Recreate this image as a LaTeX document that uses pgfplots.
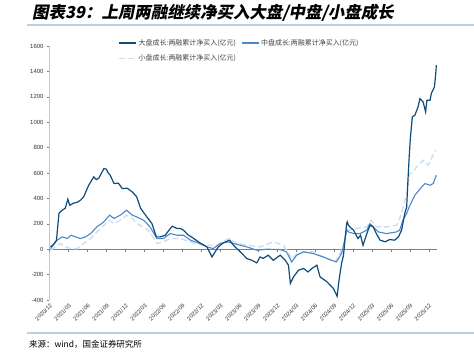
\documentclass[border=0pt]{standalone}
\usepackage{fontspec}
\setmainfont{Liberation Sans}
\newfontfamily\cjk{Noto Sans CJK SC}
\newfontfamily\cjkt{Noto Sans CJK SC}[FakeSlant=0.2]
\usepackage{pgfplots}
\pgfplotsset{compat=1.18}
\definecolor{cA}{HTML}{0E4C7A}
\definecolor{cB}{HTML}{4A88CC}
\definecolor{cC}{HTML}{CCDFF2}
\definecolor{sepc}{HTML}{BCCFE0}
\begin{document}
\begin{tikzpicture}
\useasboundingbox (0bp,0bp) rectangle (474bp,353bp);
\node[anchor=west, font=\cjkt\bfseries\fontsize{16.5}{18}\selectfont, inner sep=0pt] at (32bp,340.5bp) {图表39：上周两融继续净买入大盘/中盘/小盘成长};
\draw[sepc, line width=1.5bp] (27bp,328bp) -- (474bp,328bp);
\draw[sepc, line width=1.5bp] (27bp,20bp) -- (474bp,20bp);
\node[anchor=west, font=\cjk\fontsize{8.5}{10}\selectfont, inner sep=0pt] at (29bp,9bp) {来源：wind，国金证券研究所};
\begin{axis}[
  at={(49.5bp,53bp)}, anchor=south west,
  scale only axis, width=387.5bp, height=254bp,
  xmin=0, xmax=61.3, ymin=-400, ymax=1600,
  axis x line*=bottom, axis y line*=left,
  x axis line style={draw=none},
  y axis line style={draw=gray!45, line width=1.8bp, -},
  xtick={0,3,...,60},
  xticklabels={2020/12,2021/03,2021/06,2021/09,2021/12,2022/03,2022/06,2022/09,2022/12,2023/03,2023/06,2023/09,2023/12,2024/03,2024/06,2024/09,2024/12,2025/03,2025/06,2025/09,2025/12},
  x tick label style={rotate=45, anchor=north east, font=\fontsize{5.8}{6.5}\selectfont, inner sep=0.5bp, text=black!80},
  major x tick style={draw=none},
  ytick={-400,-200,...,1600},
  y tick label style={font=\fontsize{6}{7}\selectfont, text=black!80},
  ytick style={draw=gray, line width=0.5bp},
  major tick length=2.5bp, tick align=outside,
  /pgf/number format/assume math mode=true,
  /pgf/number format/1000 sep={},
  scaled y ticks=false,
  legend columns=2,
  legend cell align=left,
  legend style={at={(0.177,1.035)}, anchor=north west, draw=none, fill=none,
    font=\cjk\fontsize{7}{8}\selectfont, text=black!75, inner sep=0pt,
    /tikz/every even column/.append style={column sep=3bp}, row sep=4bp},
]
\draw[gray, line width=0.7bp] (axis cs:0,0) -- (axis cs:61.3,0);
\pgfplotsinvokeforeach{0,3,...,60}{\draw[gray, line width=0.5bp] (axis cs:#1,0) -- ([yshift=-2.5bp]axis cs:#1,0);}
\addplot[cC, line width=1.4bp, dash pattern=on 6bp off 3bp, forget plot] coordinates {
(0.16,-8)(1.7,45)(2.5,18)(3.3,5)(4.4,5)(5.4,45)(6.5,84)(7.5,136)(8.6,189)(9.4,228)(10.2,202)(11.2,228)(12.2,268)(13.1,242)(13.8,202)(14.9,176)(15.9,136)(17.0,45)(18.0,58)(19.1,84)(20.7,84)(22.3,58)(22.8,45)(24.9,31)(26.5,31)(28.3,84)(29.6,45)(31.2,31)(33.3,18)(35.4,58)(37.0,31)(38.3,-73)(39.6,-21)(41.7,-21)(43.3,-61)(45.2,-100)(46.5,18)(47.0,160)(47.3,150)(48.6,163)(50.2,176)(50.9,228)(51.7,176)(53.3,176)(54.9,189)(55.7,281)(56.2,386)(56.5,420)(57.0,596)(57.5,609)(58.3,661)(59.1,701)(59.9,661)(60.4,714)(61.1,780)};
\addplot[cB, line width=1.1bp, forget plot] coordinates {
(0.16,5)(1.2,71)(2.0,97)(2.8,84)(3.4,110)(4.1,97)(4.9,84)(5.7,97)(6.5,123)(7.5,176)(8.6,215)(9.5,268)(10.2,242)(11.2,268)(12.2,307)(13.1,268)(13.8,254)(14.9,228)(15.9,176)(17.0,84)(18.0,84)(19.1,123)(20.2,110)(21.2,110)(22.3,71)(23.8,45)(24.9,18)(25.9,5)(27.0,45)(28.3,58)(29.1,45)(31.2,18)(32.8,-8)(34.4,0)(36.5,-3)(37.5,-21)(38.3,-100)(39.1,-47)(40.2,-21)(41.7,-34)(43.3,-61)(44.6,-87)(45.4,-100)(46.2,-34)(46.7,71)(47.0,150)(47.3,136)(48.1,123)(49.1,123)(50.2,150)(50.7,202)(51.2,176)(52.0,136)(53.3,123)(54.9,136)(55.4,150)(55.9,228)(56.5,281)(56.9,333)(57.8,425)(58.9,491)(59.4,517)(60.2,504)(60.7,517)(61.2,583)};
\addplot[cA, line width=1.2bp, forget plot] coordinates {
(0.16,18)(0.6,35)(1.1,70)(1.5,283)(2.0,307)(2.5,323)(2.9,394)(3.2,346)(3.8,362)(4.4,370)(4.9,386)(5.4,412)(6.2,504)(7.0,570)(7.4,548)(7.8,559)(8.6,635)(9.0,630)(9.3,600)(9.6,583)(10.2,517)(10.9,520)(11.5,478)(12.3,480)(12.7,465)(13.1,451)(13.8,412)(14.4,323)(15.4,254)(16.2,202)(16.9,97)(17.5,97)(18.3,110)(19.4,181)(20.2,163)(20.7,163)(21.2,150)(21.7,123)(22.0,110)(22.8,85)(23.8,50)(24.9,18)(25.7,-61)(26.2,-21)(26.7,18)(27.5,50)(28.5,71)(29.1,31)(30.2,-21)(31.2,-73)(32.0,-87)(32.8,-108)(33.3,-61)(33.8,-73)(34.6,-47)(35.4,-87)(36.5,-47)(37.3,-87)(37.8,-126)(38.1,-270)(38.6,-218)(39.4,-165)(40.2,-152)(40.9,-179)(41.5,-152)(42.3,-126)(42.8,-218)(43.9,-257)(44.9,-309)(45.5,-370)(45.8,-244)(46.2,-113)(46.5,-50)(46.8,100)(47.0,202)(47.1,215)(47.3,189)(47.5,176)(48.1,150)(48.8,84)(49.2,110)(49.6,31)(50.2,123)(50.7,189)(51.2,176)(51.7,123)(52.3,71)(53.1,58)(53.8,76)(54.6,71)(55.2,97)(55.7,150)(56.2,281)(56.5,333)(56.7,540)(56.9,727)(57.1,884)(57.4,1042)(57.8,1055)(58.3,1120)(58.6,1186)(59.1,1160)(59.5,1081)(59.7,1173)(60.2,1173)(60.4,1226)(60.9,1278)(61.1,1383)(61.2,1449)};
\addlegendimage{cA, line width=1.2bp}
\addlegendentry{大盘成长:两融累计净买入(亿元)}
\addlegendimage{cB, line width=1.1bp}
\addlegendentry{中盘成长:两融累计净买入(亿元)}
\addlegendimage{cC, line width=1.4bp, dash pattern=on 6bp off 3bp}
\addlegendentry{小盘成长:两融累计净买入(亿元)}
\end{axis}
\end{tikzpicture}
\end{document}
